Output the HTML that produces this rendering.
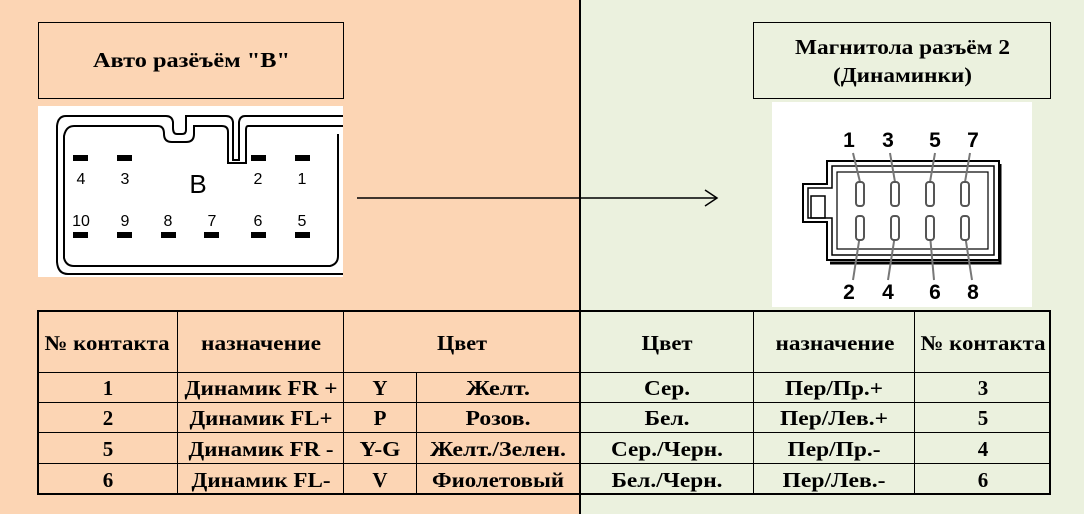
<!DOCTYPE html>
<html><head><meta charset="utf-8"><style>
html,body{margin:0;padding:0}
body{width:1084px;height:514px;overflow:hidden}
svg text{font-family:"Liberation Serif",serif;font-weight:bold;fill:#000}
.s text{font-family:"Liberation Sans",sans-serif;font-weight:normal}
</style></head><body>
<svg width="1084" height="514" viewBox="0 0 1084 514" xmlns="http://www.w3.org/2000/svg">
<rect x="0" y="0" width="580" height="514" fill="#FCD5B4"/>
<rect x="580" y="0" width="504" height="514" fill="#EBF1DE"/>
<line x1="580" y1="0" x2="580" y2="514" stroke="#000" stroke-width="2"/>

<rect x="38.5" y="22.5" width="305" height="76" fill="none" stroke="#000" stroke-width="1"/>
<text x="93" y="67" font-size="21" textLength="197" lengthAdjust="spacingAndGlyphs">Авто  разёъём "В"</text>
<rect x="753.5" y="22.5" width="297" height="76" fill="none" stroke="#000" stroke-width="1"/>
<text x="795" y="54" font-size="21" textLength="215" lengthAdjust="spacingAndGlyphs">Магнитола разъём 2</text>
<text x="833" y="82" font-size="21" textLength="139" lengthAdjust="spacingAndGlyphs">(Динаминки)</text>

<rect x="38" y="106" width="305" height="171" fill="#fff"/>
<g fill="none" stroke="#000" stroke-width="2">
<path d="M343 116 H245 Q240 116 239 122 V160 H233 V122 Q232 116 226 116 H186 V130 Q186 134 182 134 H177 Q173 134 173 128 V122 Q172 116 166 116 H66 Q58 116 57 126 V262 Q58 274 68 274 H343"/>
<path d="M343 126 H248 Q246 126 246 130 V163 H228 V132 Q228 126 222 126 H194 V134 Q194 142 186 142 H172 Q164 142 164 134 Q164 126 158 126 H74 Q66 126 64 136 V258 Q66 266 74 266 H330 Q338 264 338 256 V134"/>
</g>
<g fill="#000">
<rect x="73" y="155" width="15" height="6"/><rect x="117" y="155" width="15" height="6"/>
<rect x="251" y="155" width="15" height="6"/><rect x="295" y="155" width="15" height="6"/>
<rect x="73" y="232" width="15" height="6"/><rect x="117" y="232" width="15" height="6"/>
<rect x="161" y="232" width="15" height="6"/><rect x="204" y="232" width="15" height="6"/>
<rect x="251" y="232" width="15" height="6"/><rect x="295" y="232" width="15" height="6"/>
</g>
<g class="s" font-size="16" text-anchor="middle">
<text x="81" y="184">4</text><text x="125" y="184">3</text><text x="258" y="184">2</text><text x="302" y="184">1</text>
<text x="81" y="226">10</text><text x="125" y="226">9</text><text x="168" y="226">8</text><text x="212" y="226">7</text><text x="258" y="226">6</text><text x="302" y="226">5</text>
<text x="198" y="193" font-size="26">B</text>
</g>

<line x1="357" y1="198" x2="716" y2="198" stroke="#000" stroke-width="1.5"/>
<path d="M705 190 L717 198 L705 206" fill="none" stroke="#000" stroke-width="1.5"/>

<rect x="772" y="102" width="260" height="205" fill="#fff"/>
<g fill="none" stroke="#000" stroke-width="2">
<path d="M827 161 H999 V260 H827 V222 H803 V184 H827 Z"/>
<path d="M832 166 H994 V255 H832 V218 H808 V188 H832 Z" stroke-width="1.5"/>
<rect x="837" y="172" width="151" height="77" stroke-width="1.2"/>
<rect x="811" y="196" width="14" height="22" stroke-width="1.5"/>
</g>
<path d="M1000 164 V263 H830" fill="none" stroke="#000" stroke-width="3"/>
<g stroke="#777" stroke-width="2" fill="none">
<line x1="853" y1="153" x2="860" y2="182"/><line x1="890" y1="153" x2="895" y2="182"/>
<line x1="935" y1="153" x2="930" y2="182"/><line x1="970" y1="153" x2="965" y2="182"/>
<line x1="853" y1="280" x2="860" y2="235"/><line x1="888" y1="280" x2="895" y2="235"/>
<line x1="934" y1="280" x2="930" y2="235"/><line x1="972" y1="280" x2="965" y2="235"/>
</g>
<g fill="#fff" stroke="#555" stroke-width="2">
<rect x="856" y="182" width="8" height="24" rx="3"/><rect x="891" y="182" width="8" height="24" rx="3"/>
<rect x="926" y="182" width="8" height="24" rx="3"/><rect x="961" y="182" width="8" height="24" rx="3"/>
<rect x="856" y="216" width="8" height="24" rx="3"/><rect x="891" y="216" width="8" height="24" rx="3"/>
<rect x="926" y="216" width="8" height="24" rx="3"/><rect x="961" y="216" width="8" height="24" rx="3"/>
</g>
<g class="s" font-size="21" text-anchor="middle">
<text x="849" y="147" style="font-weight:bold">1</text><text x="888" y="147" style="font-weight:bold">3</text>
<text x="935" y="147" style="font-weight:bold">5</text><text x="973" y="147" style="font-weight:bold">7</text>
<text x="849" y="299" style="font-weight:bold">2</text><text x="888" y="299" style="font-weight:bold">4</text>
<text x="935" y="299" style="font-weight:bold">6</text><text x="973" y="299" style="font-weight:bold">8</text>
</g>

<g stroke="#000" fill="none">
<rect x="38" y="311" width="542" height="183" stroke-width="2"/>
<rect x="580" y="311" width="470" height="183" stroke-width="2"/>
<g stroke-width="1">
<line x1="38" y1="372.5" x2="1050" y2="372.5"/>
<line x1="38" y1="402.5" x2="1050" y2="402.5"/>
<line x1="38" y1="432.5" x2="1050" y2="432.5"/>
<line x1="38" y1="463.5" x2="1050" y2="463.5"/>
<line x1="177.5" y1="311" x2="177.5" y2="494"/>
<line x1="343.5" y1="311" x2="343.5" y2="494"/>
<line x1="416.5" y1="372" x2="416.5" y2="494"/>
<line x1="753.5" y1="311" x2="753.5" y2="494"/>
<line x1="914.5" y1="311" x2="914.5" y2="494"/>
</g></g>
<g font-size="21" text-anchor="middle">
<text x="107" y="350" textLength="125" lengthAdjust="spacingAndGlyphs">№ контакта</text>
<text x="261" y="350" textLength="120" lengthAdjust="spacingAndGlyphs">назначение</text>
<text x="462" y="350" textLength="50" lengthAdjust="spacingAndGlyphs">Цвет</text>
<text x="667" y="350" textLength="51" lengthAdjust="spacingAndGlyphs">Цвет</text>
<text x="835" y="350" textLength="119" lengthAdjust="spacingAndGlyphs">назначение</text>
<text x="983" y="350" textLength="125" lengthAdjust="spacingAndGlyphs">№ контакта</text>
</g>
<g font-size="21" text-anchor="middle">
<text x="108" y="395">1</text><text x="261" y="395" textLength="153" lengthAdjust="spacingAndGlyphs">Динамик FR +</text><text x="380" y="395">Y</text><text x="498" y="395" textLength="64" lengthAdjust="spacingAndGlyphs">Желт.</text><text x="667" y="395" textLength="46" lengthAdjust="spacingAndGlyphs">Сер.</text><text x="834" y="395" textLength="98" lengthAdjust="spacingAndGlyphs">Пер/Пр.+</text><text x="983" y="395">3</text>
<text x="108" y="425">2</text><text x="261" y="425" textLength="143" lengthAdjust="spacingAndGlyphs">Динамик FL+</text><text x="380" y="425">P</text><text x="498" y="425" textLength="65" lengthAdjust="spacingAndGlyphs">Розов.</text><text x="667" y="425" textLength="45" lengthAdjust="spacingAndGlyphs">Бел.</text><text x="834" y="425" textLength="108" lengthAdjust="spacingAndGlyphs">Пер/Лев.+</text><text x="983" y="425">5</text>
<text x="108" y="456">5</text><text x="261" y="456" textLength="145" lengthAdjust="spacingAndGlyphs">Динамик FR -</text><text x="380" y="456" textLength="41" lengthAdjust="spacingAndGlyphs">Y-G</text><text x="498" y="456" textLength="136" lengthAdjust="spacingAndGlyphs">Желт./Зелен.</text><text x="667" y="456" textLength="112" lengthAdjust="spacingAndGlyphs">Сер./Черн.</text><text x="834" y="456" textLength="93" lengthAdjust="spacingAndGlyphs">Пер/Пр.-</text><text x="983" y="456">4</text>
<text x="108" y="487">6</text><text x="261" y="487" textLength="139" lengthAdjust="spacingAndGlyphs">Динамик FL-</text><text x="380" y="487">V</text><text x="498" y="487" textLength="132" lengthAdjust="spacingAndGlyphs">Фиолетовый</text><text x="667" y="487" textLength="111" lengthAdjust="spacingAndGlyphs">Бел./Черн.</text><text x="834" y="487" textLength="103" lengthAdjust="spacingAndGlyphs">Пер/Лев.-</text><text x="983" y="487">6</text>
</g>
</svg>
</body></html>
